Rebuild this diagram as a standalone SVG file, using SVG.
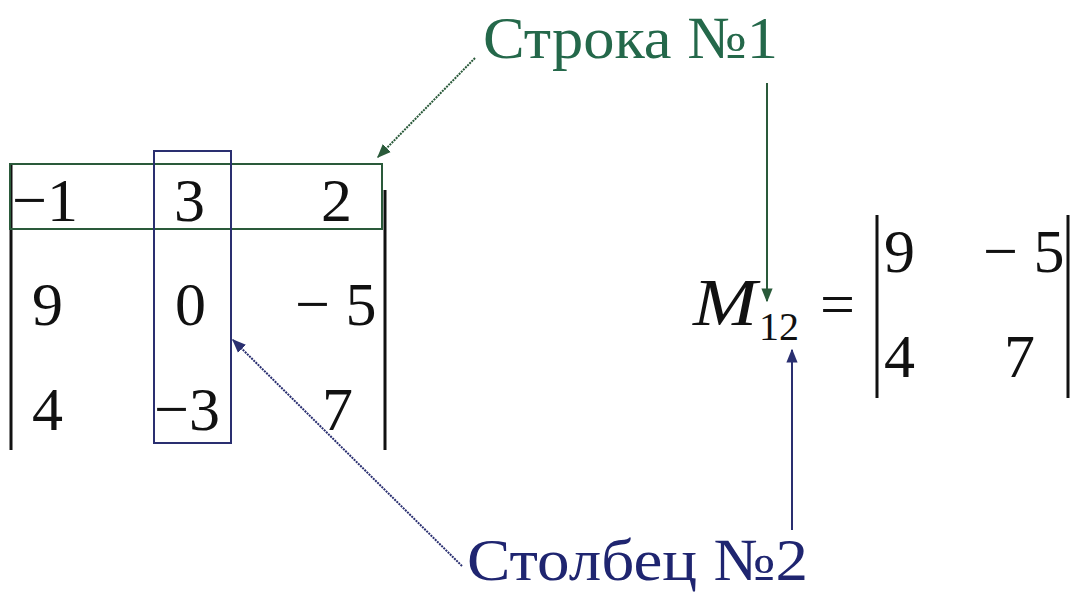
<svg xmlns="http://www.w3.org/2000/svg" width="1082" height="592" viewBox="0 0 1082 592">
<defs>
<style>
.t{font-family:"Liberation Serif","Times New Roman",serif;fill:#111;}
.n{font-size:62px;}
.g{fill:#24684a;font-size:60px;}
.b{fill:#1f2570;font-size:60px;}
.bar{stroke:#111;stroke-width:3;}
.cg{stroke:#2a5a3a;stroke-width:2;fill:none;}
.cb{stroke:#2a2f70;stroke-width:2;fill:none;}
</style>
<marker id="ag" viewBox="0 0 10 10" refX="9" refY="5" markerWidth="7" markerHeight="7" orient="auto"><path d="M0,1 L10,5 L0,9 Z" fill="#2a5a3a"/></marker>
<marker id="ab" viewBox="0 0 10 10" refX="9" refY="5" markerWidth="7" markerHeight="7" orient="auto"><path d="M0,1 L10,5 L0,9 Z" fill="#2a2f70"/></marker>
</defs>
<rect width="1082" height="592" fill="#fff"/>
<g id="det3">
<line class="bar" x1="11" y1="163" x2="11" y2="450"/>
<line class="bar" x1="385" y1="190" x2="385" y2="450"/>
<text class="t n" x="12" y="221">−1</text>
<text class="t n" x="174" y="221">3</text>
<text class="t n" x="321" y="221">2</text>
<text class="t n" x="32" y="325">9</text>
<text class="t n" x="175" y="325">0</text>
<text class="t n" x="295" y="325">− 5</text>
<text class="t n" x="32" y="430">4</text>
<text class="t n" x="154" y="430">−3</text>
<text class="t n" x="322" y="430">7</text>
</g>
<g id="row1">
<rect class="cg" x="10" y="164" width="372" height="65"/>
</g>
<g id="col2">
<rect class="cb" x="154" y="151" width="77" height="292"/>
</g>
<g id="minor">
<text class="t" x="693" y="325" font-size="68" font-style="italic" textLength="64" lengthAdjust="spacingAndGlyphs">M</text>
<text class="t" x="759" y="340" font-size="40">12</text>
<text class="t" x="820" y="325" font-size="62">=</text>
<line class="bar" x1="877" y1="215" x2="877" y2="398"/>
<line class="bar" x1="1068" y1="215" x2="1068" y2="398"/>
<text class="t n" x="884" y="272">9</text>
<text class="t n" x="983" y="272">− 5</text>
<text class="t n" x="884" y="377">4</text>
<text class="t n" x="1004" y="377">7</text>
</g>
<g id="label-row">
<text class="t g" x="483" y="58" textLength="295" lengthAdjust="spacingAndGlyphs">Строка №1</text>
</g>
<g id="label-col">
<text class="t b" x="467" y="580" textLength="341" lengthAdjust="spacingAndGlyphs">Столбец №2</text>
</g>
<g id="connectors">
<line class="cg" x1="475" y1="58" x2="378" y2="157" marker-end="url(#ag)" stroke-dasharray="2 1"/>
<line class="cg" x1="767" y1="83" x2="767" y2="301" marker-end="url(#ag)"/>
<line class="cb" x1="462" y1="566" x2="233" y2="340" marker-end="url(#ab)" stroke-dasharray="2 1"/>
<line class="cb" x1="792" y1="530" x2="792" y2="350" marker-end="url(#ab)"/>
</g>
</svg>
